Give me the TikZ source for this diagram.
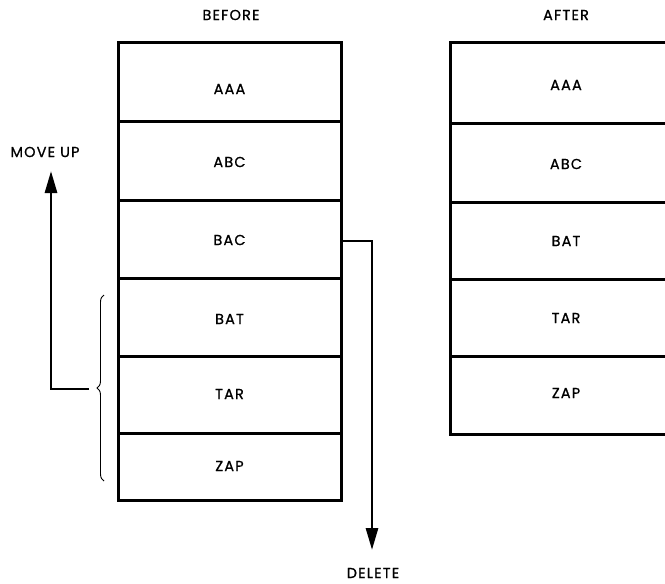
\documentclass[tikz,border=0pt]{standalone}
\usepackage{fontspec}
\setmainfont{Poppins}[LetterSpace=8.0, FakeBold=0.8]
\usetikzlibrary{arrows.meta,decorations.pathreplacing}
\begin{document}
\begin{tikzpicture}[x=1pt,y=-1pt,
  cell/.style={draw, line width=3pt, inner sep=0pt, minimum width=223pt},
  rcell/.style={draw, line width=3pt, inner sep=0pt, minimum width=232pt},
  lbl/.style={font=\fontsize{14.5}{16}\selectfont, inner sep=1pt},
  conn/.style={line width=2.8pt, -{Triangle[length=22pt,width=12pt]}}]
\useasboundingbox (0,0) rectangle (665,584);
% left box (BEFORE)
\node[cell, minimum height=79pt] (l1) at (229.5,81.5) {};
\node[cell, minimum height=79pt] (l2) at (229.5,160.5) {};
\node[cell, minimum height=78pt] (l3) at (229.5,239) {};
\node[cell, minimum height=78pt] (l4) at (229.5,317) {};
\node[cell, minimum height=77pt] (l5) at (229.5,394.5) {};
\node[cell, minimum height=67pt] (l6) at (229.5,466.5) {};
% right box (AFTER)
\node[rcell, minimum height=81pt] (r1) at (566,82.5) {};
\node[rcell, minimum height=79pt] (r2) at (566,162.5) {};
\node[rcell, minimum height=77pt] (r3) at (566,240.5) {};
\node[rcell, minimum height=77pt] (r4) at (566,317.5) {};
\node[rcell, minimum height=78pt] (r5) at (566,395) {};
% texts
\node[lbl] (before) at (231,15) {BEFORE};
\node[lbl] (after) at (566,15) {AFTER};
\node[lbl] (tl1) at (229.5,89) {AAA};
\node[lbl] (tl2) at (229.5,162) {ABC};
\node[lbl] (tl3) at (229.5,240) {BAC};
\node[lbl] (tl4) at (229.5,319) {BAT};
\node[lbl] (tl5) at (229.5,394) {TAR};
\node[lbl] (tl6) at (229.5,466) {ZAP};
\node[lbl] (tr1) at (566,85) {AAA};
\node[lbl] (tr2) at (566,164) {ABC};
\node[lbl] (tr3) at (566,241) {BAT};
\node[lbl] (tr4) at (566,318) {TAR};
\node[lbl] (tr5) at (566,393) {ZAP};
\node[lbl] (moveup) at (45,152) {MOVE UP};
\node[lbl] (delete) at (373,573) {DELETE};
% connectors
\coordinate (dc) at (372,241);
\coordinate (dend) at (372,550);
\draw[conn] (l3.east |- dc) -- (dc) -- (dend);
\coordinate (mstart) at (89,389);
\coordinate (mc) at (51,389);
\coordinate (mend) at (51,171);
\draw[conn] (mstart) -- (mc) -- (mend);
% brace
\coordinate (bb) at (104,481);
\coordinate (bt) at (104,295);
\draw[line width=0.9pt, decorate, decoration={brace, amplitude=7pt}] (bb) -- (bt);
\end{tikzpicture}
\end{document}
